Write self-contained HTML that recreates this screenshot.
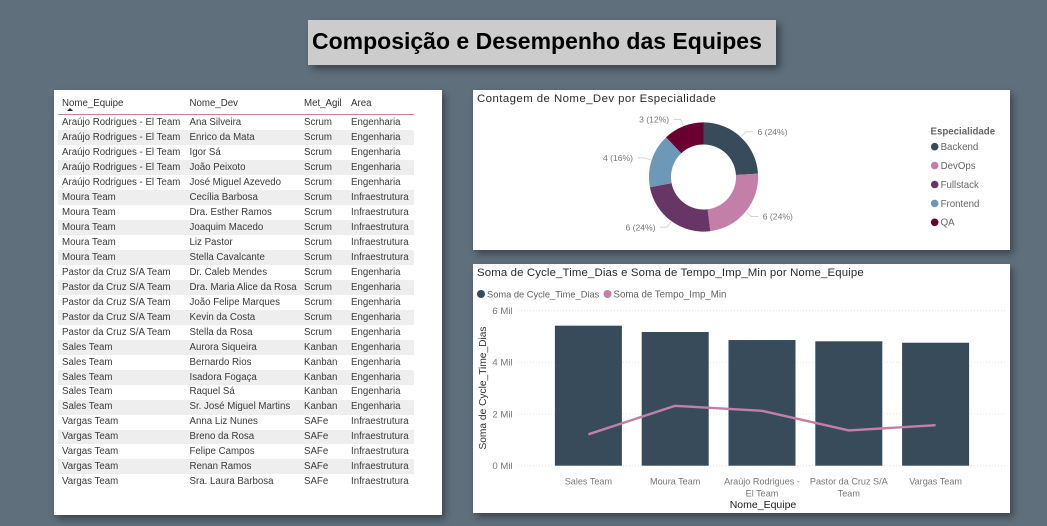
<!DOCTYPE html>
<html lang="pt">
<head>
<meta charset="utf-8">
<title>Composição e Desempenho das Equipes</title>
<style>
html,body{margin:0;padding:0;width:1047px;height:526px;overflow:hidden;background:#5f6f7b;font-family:"Liberation Sans",sans-serif}
body{filter:blur(.3px)}
.card{position:absolute;background:#fff;box-shadow:3px 4px 7px rgba(0,0,0,.38)}
#title-box{position:absolute;left:308px;top:20px;width:468px;height:45px;background:#ccc;box-shadow:4px 4px 7px rgba(0,0,0,.4);box-sizing:border-box;padding-left:4px;line-height:42px;font-size:23px;font-weight:bold;color:#000;white-space:nowrap}
#table-card{left:54px;top:90px;width:388px;height:425px}
#donut-card{left:473px;top:90px;width:537px;height:160px}
#combo-card{left:473px;top:264px;width:537px;height:249px}
#data-table{position:absolute;left:4px;top:4px;width:356px;font-size:9.7px;color:#3a3a3a}
.row{position:relative;height:14.96px;line-height:14.96px;white-space:nowrap}
.row:nth-child(even){background:#eee}
.row span{position:absolute;top:.8px}
.head span{position:absolute;top:1px}
.c1{left:4px}.c2{left:131.5px}.c3{left:246px}.c4{left:293px}
.head{position:absolute;left:0;top:0;width:356px;height:20px;border-bottom:1px solid #c47fa8;font-size:9.7px;color:#333;line-height:17px;z-index:2}
#rows{position:absolute;left:0;top:21.5px;width:356px}
#sort-arrow{position:absolute;left:9px;top:14px;width:0;height:0;border-left:3px solid transparent;border-right:3px solid transparent;border-bottom:3px solid #222}
svg{position:absolute;left:0;top:0}
</style>
</head>
<body>
<div id="title-box">Composição e Desempenho das Equipes</div>

<div id="table-card" class="card">
<div id="data-table">
<div class="head">
<span class="c1">Nome_Equipe</span>
<span class="c2">Nome_Dev</span>
<span class="c3">Met_Agil</span>
<span class="c4">Area</span>
<i id="sort-arrow"></i>
</div>
<div id="rows">
<div class="row"><span class="c1">Araújo Rodrigues - El Team</span><span class="c2">Ana Silveira</span><span class="c3">Scrum</span><span class="c4">Engenharia</span></div>
<div class="row"><span class="c1">Araújo Rodrigues - El Team</span><span class="c2">Enrico da Mata</span><span class="c3">Scrum</span><span class="c4">Engenharia</span></div>
<div class="row"><span class="c1">Araújo Rodrigues - El Team</span><span class="c2">Igor Sá</span><span class="c3">Scrum</span><span class="c4">Engenharia</span></div>
<div class="row"><span class="c1">Araújo Rodrigues - El Team</span><span class="c2">João Peixoto</span><span class="c3">Scrum</span><span class="c4">Engenharia</span></div>
<div class="row"><span class="c1">Araújo Rodrigues - El Team</span><span class="c2">José Miguel Azevedo</span><span class="c3">Scrum</span><span class="c4">Engenharia</span></div>
<div class="row"><span class="c1">Moura Team</span><span class="c2">Cecília Barbosa</span><span class="c3">Scrum</span><span class="c4">Infraestrutura</span></div>
<div class="row"><span class="c1">Moura Team</span><span class="c2">Dra. Esther Ramos</span><span class="c3">Scrum</span><span class="c4">Infraestrutura</span></div>
<div class="row"><span class="c1">Moura Team</span><span class="c2">Joaquim Macedo</span><span class="c3">Scrum</span><span class="c4">Infraestrutura</span></div>
<div class="row"><span class="c1">Moura Team</span><span class="c2">Liz Pastor</span><span class="c3">Scrum</span><span class="c4">Infraestrutura</span></div>
<div class="row"><span class="c1">Moura Team</span><span class="c2">Stella Cavalcante</span><span class="c3">Scrum</span><span class="c4">Infraestrutura</span></div>
<div class="row"><span class="c1">Pastor da Cruz S/A Team</span><span class="c2">Dr. Caleb Mendes</span><span class="c3">Scrum</span><span class="c4">Engenharia</span></div>
<div class="row"><span class="c1">Pastor da Cruz S/A Team</span><span class="c2">Dra. Maria Alice da Rosa</span><span class="c3">Scrum</span><span class="c4">Engenharia</span></div>
<div class="row"><span class="c1">Pastor da Cruz S/A Team</span><span class="c2">João Felipe Marques</span><span class="c3">Scrum</span><span class="c4">Engenharia</span></div>
<div class="row"><span class="c1">Pastor da Cruz S/A Team</span><span class="c2">Kevin da Costa</span><span class="c3">Scrum</span><span class="c4">Engenharia</span></div>
<div class="row"><span class="c1">Pastor da Cruz S/A Team</span><span class="c2">Stella da Rosa</span><span class="c3">Scrum</span><span class="c4">Engenharia</span></div>
<div class="row"><span class="c1">Sales Team</span><span class="c2">Aurora Siqueira</span><span class="c3">Kanban</span><span class="c4">Engenharia</span></div>
<div class="row"><span class="c1">Sales Team</span><span class="c2">Bernardo Rios</span><span class="c3">Kanban</span><span class="c4">Engenharia</span></div>
<div class="row"><span class="c1">Sales Team</span><span class="c2">Isadora Fogaça</span><span class="c3">Kanban</span><span class="c4">Engenharia</span></div>
<div class="row"><span class="c1">Sales Team</span><span class="c2">Raquel Sá</span><span class="c3">Kanban</span><span class="c4">Engenharia</span></div>
<div class="row"><span class="c1">Sales Team</span><span class="c2">Sr. José Miguel Martins</span><span class="c3">Kanban</span><span class="c4">Engenharia</span></div>
<div class="row"><span class="c1">Vargas Team</span><span class="c2">Anna Liz Nunes</span><span class="c3">SAFe</span><span class="c4">Infraestrutura</span></div>
<div class="row"><span class="c1">Vargas Team</span><span class="c2">Breno da Rosa</span><span class="c3">SAFe</span><span class="c4">Infraestrutura</span></div>
<div class="row"><span class="c1">Vargas Team</span><span class="c2">Felipe Campos</span><span class="c3">SAFe</span><span class="c4">Infraestrutura</span></div>
<div class="row"><span class="c1">Vargas Team</span><span class="c2">Renan Ramos</span><span class="c3">SAFe</span><span class="c4">Infraestrutura</span></div>
<div class="row"><span class="c1">Vargas Team</span><span class="c2">Sra. Laura Barbosa</span><span class="c3">SAFe</span><span class="c4">Infraestrutura</span></div>
</div>
</div>
</div>

<div id="donut-card" class="card"></div>
<div id="combo-card" class="card"></div>

<svg id="charts" width="1047" height="526" viewBox="0 0 1047 526" font-family="'Liberation Sans',sans-serif">
<text x="477" y="102" font-size="11.4" letter-spacing=".45" fill="#2b2b2b">Contagem de Nome_Dev por Especialidade</text>
<text x="477" y="276" font-size="11.4" letter-spacing=".14" fill="#2b2b2b">Soma de Cycle_Time_Dias e Soma de Tempo_Imp_Min por Nome_Equipe</text>
<circle cx="481" cy="294" r="4" fill="#374b5b"/>
<text x="487" y="297.5" font-size="9.3" fill="#5f5f5f">Soma de Cycle_Time_Dias</text>
<circle cx="607.5" cy="294" r="4" fill="#c47fa8"/>
<text x="613.5" y="297.5" font-size="9.7" fill="#5f5f5f">Soma de Tempo_Imp_Min</text>
<text transform="translate(486,388) rotate(-90)" text-anchor="middle" font-size="10.2" fill="#333">Soma de Cycle_Time_Dias</text>
<text x="763" y="508" text-anchor="middle" font-size="10.5" font-weight="500" fill="#222">Nome_Equipe</text>
<text x="930.5" y="134.5" font-size="9.7" font-weight="bold" fill="#666">Especialidade</text>
<g id="grid"></g><g id="yticks"></g><g id="bars"></g><g id="line"></g><g id="xticks"></g>
<g id="donut"></g><g id="donut-labels"></g><g id="donut-legend"></g>
</svg>

<script>
// Combo chart data
const teams = ['Sales Team','Moura Team','Araújo Rodrigues - El Team','Pastor da Cruz S/A Team','Vargas Team'];
const cycleTimeDias = [5420,5175,4865,4815,4760];
const tempoImpMin = [1215,2320,2125,1365,1570];
const yTickValues = [0,2000,4000,6000];
const yTickLabels = ['0 Mil','2 Mil','4 Mil','6 Mil'];
// Donut data
const specialties = ['Backend','DevOps','Fullstack','Frontend','QA'];
const specialtyCounts = [6,6,6,4,3];

const NS = 'http://www.w3.org/2000/svg';
function mk(parent, tag, attrs, text) {
  const el = document.createElementNS(NS, tag);
  for (const k in attrs) el.setAttribute(k, attrs[k]);
  if (text !== undefined) el.textContent = text;
  document.getElementById(parent).appendChild(el);
  return el;
}

// Axis functions
const plot = {left: 518, right: 1006, top: 310.7, bottom: 465.7, bandStart: 545, band: 86.8, barWidth: 67};
function yScale(v) { return plot.bottom - v / 6000 * (plot.bottom - plot.top); }
function xCenter(i) { return plot.bandStart + plot.band * (i + 0.5); }
function wrapLabel(s) {
  const words = s.split(' '), lines = [];
  let cur = '';
  for (const w of words) {
    if (cur && (cur + ' ' + w).length > 18) { lines.push(cur); cur = w; }
    else cur = cur ? cur + ' ' + w : w;
  }
  lines.push(cur);
  return lines;
}

yTickValues.forEach(function (v, i) {
  const g = mk('grid', 'line', {x1: plot.left, x2: plot.right, y1: yScale(v), y2: yScale(v), stroke: '#e4e4e4', 'stroke-width': 1, 'stroke-dasharray': '1 2'});
  
  
  const t = mk('yticks', 'text', {x: 512.7, y: yScale(v) + 3.3, 'text-anchor': 'end', 'font-size': 9.6, fill: '#777'}, yTickLabels[i]);
  
  
});

teams.forEach(function (name, i) {
  const y = yScale(cycleTimeDias[i]);
  const b = mk('bars', 'rect', {x: xCenter(i) - plot.barWidth / 2, y: y, width: plot.barWidth, height: plot.bottom - y, fill: '#374b5b'});
  
  
  wrapLabel(name).forEach(function (line, j) {
    const t = mk('xticks', 'text', {x: xCenter(i), y: 484.5 + j * 12, 'text-anchor': 'middle', 'font-size': 9.1, fill: '#777'}, line);
    
    
  });
});

const linePoints = tempoImpMin.map(function (v, i) { return xCenter(i) + ',' + yScale(v); }).join(' ');
const tempoLine = mk('line', 'polyline', {points: linePoints, fill: 'none', stroke: '#c47fa8', 'stroke-width': 2.4, 'stroke-linejoin': 'round'});



// Donut
const donutGeom = {cx: 703.5, cy: 177, outer: 54.6, inner: 32.5, leader: 62};
const donutColors = ['#374b5b','#c47fa8','#673566','#6e98b8','#6a0030'];
const donutTotal = specialtyCounts.reduce(function (a, b) { return a + b; }, 0);
function polar(r, frac) {
  const a = frac * 2 * Math.PI;
  return [donutGeom.cx + r * Math.sin(a), donutGeom.cy - r * Math.cos(a)];
}
let cumulative = 0;
specialtyCounts.forEach(function (c, i) {
  const f0 = cumulative / donutTotal;
  const f1 = (cumulative + c) / donutTotal;
  const fm = (f0 + f1) / 2;
  cumulative += c;
  const large = f1 - f0 > 0.5 ? 1 : 0;
  const p0 = polar(donutGeom.outer, f0), p1 = polar(donutGeom.outer, f1);
  const q1 = polar(donutGeom.inner, f1), q0 = polar(donutGeom.inner, f0);
  const d = 'M' + p0 + 'A' + donutGeom.outer + ',' + donutGeom.outer + ' 0 ' + large + ' 1 ' + p1 +
    'L' + q1 + 'A' + donutGeom.inner + ',' + donutGeom.inner + ' 0 ' + large + ' 0 ' + q0 + 'Z';
  const s = mk('donut', 'path', {d: d, fill: donutColors[i]});
  
  

  const e = polar(donutGeom.outer + 1, fm), m = polar(donutGeom.leader, fm);
  const dir = fm < 0.5 ? 1 : -1;
  const h = [m[0] + dir * 7, m[1]];
  const l = mk('donut-labels', 'polyline', {points: e + ' ' + m + ' ' + h, fill: 'none', stroke: '#d4d4d4', 'stroke-width': 1});
  
  
  const pct = Math.round(c / donutTotal * 100);
  const t = mk('donut-labels', 'text', {x: h[0] + dir * 4.5, y: m[1] + 3.2, 'text-anchor': dir > 0 ? 'start' : 'end', 'font-size': 8.6, fill: '#777'}, c + ' (' + pct + '%)');
  
  

  const ly = 146.7 + i * 18.9;
  const dot = mk('donut-legend', 'circle', {cx: 934.7, cy: ly, r: 3.8, fill: donutColors[i]});
  
  
  const lt = mk('donut-legend', 'text', {x: 940.6, y: ly + 3.4, 'font-size': 9.7, fill: '#666'}, specialties[i]);
  
  
});
</script>
</body>
</html>
